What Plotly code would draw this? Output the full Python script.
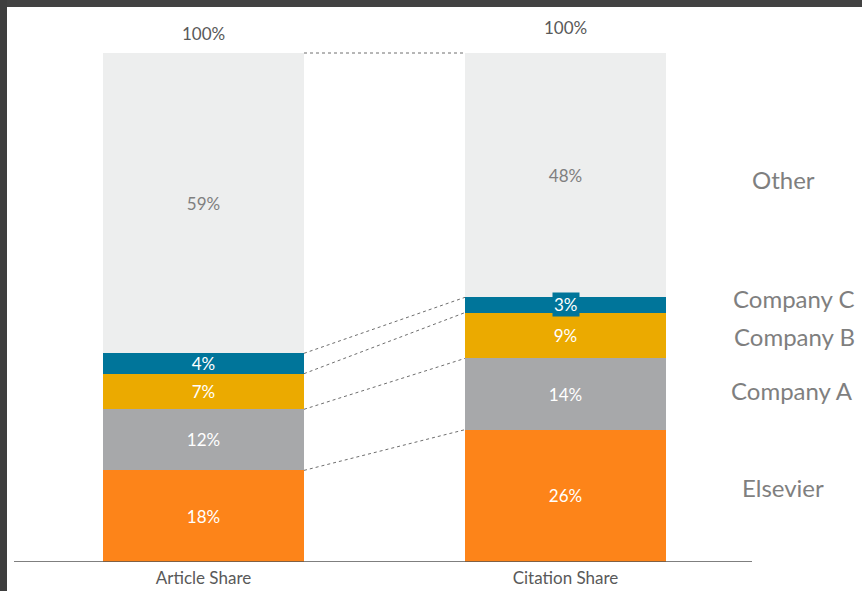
import plotly.graph_objects as go
import numpy as np

categories = ["Article Share", "Citation Share"]
series_names = ["Elsevier", "Company A", "Company B", "Company C", "Other"]
elsevier = [18, 26]
company_a = [12, 14]
company_b = [7, 9]
company_c = [4, 3]
other = [59, 48]
totals_text = ["100%", "100%"]

series_values = [elsevier, company_a, company_b, company_c, other]
colors = ["#FD8419", "#A7A8AA", "#EBAA00", "#00759A", "#EDEEEE"]
text_colors = ["#FFFFFF", "#FFFFFF", "#FFFFFF", "#FFFFFF", "#7F7F7F"]

FONT = "Lato"
W, H = 862, 591
B_MARGIN = 29
PX_PER_UNIT_X = 362.0
CAT0_PX = 203.5
BAR_W = 201 / PX_PER_UNIT_X
plot_h = H - B_MARGIN
px_per_pct = 5.09
y_top = plot_h / px_per_pct

fig = go.Figure()
for name, vals, col, tcol in zip(series_names, series_values, colors, text_colors):
    fig.add_trace(go.Bar(
        x=categories, y=vals, name=name,
        marker=dict(color=col, line=dict(width=0)),
        width=BAR_W,
        text=[f"{v}%" for v in vals],
        textposition="inside",
        insidetextanchor="middle",
        constraintext="none",
        textfont=dict(family=FONT, size=17, color=tcol),
        hoverinfo="skip",
    ))

annotations = []
shapes = []

# small-segment label box (Company C on citation bar)
cum = np.zeros(len(categories))
for vals, col in zip(series_values, colors):
    for i, v in enumerate(vals):
        if v <= 3:
            annotations.append(dict(
                x=i, y=cum[i] + v / 2, xref="x", yref="y",
                text=f"{v}%", showarrow=False,
                font=dict(family=FONT, size=17, color="#FFFFFF"),
                bgcolor=col, borderpad=1,
            ))
    cum = cum + np.array(vals)

# connector dotted lines between bars at cumulative boundaries
cum = np.zeros(len(categories))
for vals in series_values:
    cum = cum + np.array(vals)
    shapes.append(dict(
        type="line", xref="x", yref="y",
        x0=0 + BAR_W / 2, x1=1 - BAR_W / 2,
        y0=cum[0], y1=cum[1],
        line=dict(color="#6E6E6E", width=1, dash="dot"),
    ))

# totals above bars
total_shift = [20, 26]
for i, t in enumerate(totals_text):
    annotations.append(dict(
        x=i, y=float(cum[i]), xref="x", yref="y", text=t, showarrow=False,
        yshift=total_shift[i], font=dict(family=FONT, size=17, color="#595959"),
    ))

# right-side series labels
label_y = [14.7, 33.6, 44.4, 51.7, 75.2]
label_xpx = [783, 792, 794, 794, 783]
for name, ly, lx in zip(series_names, label_y, label_xpx):
    annotations.append(dict(
        x=lx / W, y=ly, xref="paper", yref="y", text=name, showarrow=False,
        xanchor="center", yanchor="middle",
        font=dict(family=FONT, size=24, color="#7F7F7F"),
    ))

# baseline axis line
shapes.append(dict(type="line", xref="paper", yref="y", x0=14 / W, x1=752 / W,
                   y0=0, y1=0, line=dict(color="#555555", width=1.5)))
# screenshot frame: top band and left strip
shapes.append(dict(type="rect", xref="paper", yref="paper", x0=0, x1=1,
                   y0=1 - 7 / plot_h, y1=1.01, fillcolor="#424242",
                   line=dict(width=0), layer="above"))
shapes.append(dict(type="rect", xref="paper", yref="paper", x0=-0.01, x1=7 / W,
                   y0=-B_MARGIN / plot_h - 0.01, y1=1.01, fillcolor="#3E3E3E",
                   line=dict(width=0), layer="above"))

x_lo = -CAT0_PX / PX_PER_UNIT_X
x_hi = x_lo + W / PX_PER_UNIT_X

fig.update_layout(
    width=W, height=H,
    margin=dict(l=0, r=0, t=0, b=B_MARGIN),
    barmode="stack",
    showlegend=False,
    plot_bgcolor="#FFFFFF", paper_bgcolor="#FFFFFF",
    xaxis=dict(range=[x_lo, x_hi], showgrid=False, zeroline=False,
               showline=False, ticks="", ticklabelstandoff=4,
               tickfont=dict(family=FONT, size=17, color="#595959"),
               fixedrange=True),
    yaxis=dict(range=[0, y_top], showgrid=False, zeroline=False,
               showline=False, showticklabels=False, fixedrange=True),
    annotations=annotations,
    shapes=shapes,
    font=dict(family=FONT),
)

fig.write_html(
    "out.html",
    config={"displayModeBar": False},
    post_script="document.body.style.margin='0';document.body.style.overflow='hidden';",
)
